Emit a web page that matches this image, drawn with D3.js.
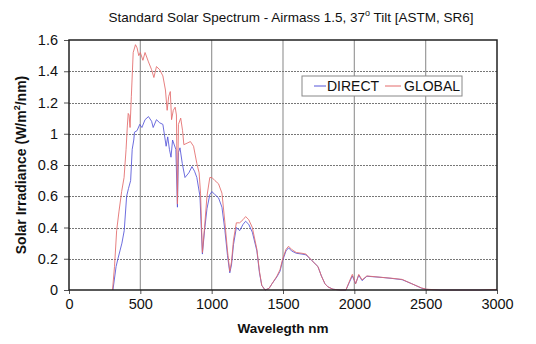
<!DOCTYPE html>
<html>
<head>
<meta charset="utf-8">
<script src="https://cdn.jsdelivr.net/npm/d3@7"></script>
<style>
  body { margin: 0; background: #fff; }
  svg { display: block; font-family: "Liberation Sans", Arial, sans-serif; }
</style>
</head>
<body>
<svg id="chart" width="536" height="344"></svg>
<script>
// wavelength (nm) and irradiance (W/m2/nm)
const globalWl = [305, 319, 334, 350, 369, 386, 400, 409, 415, 421, 428, 437, 450, 466, 477, 489, 500, 518, 533, 557,
  579, 595, 613, 636, 658, 676, 688, 699, 710, 719, 731, 744, 753, 760, 767, 783, 796, 805, 828, 851,
  873, 896, 912, 922, 935, 950, 967, 987, 1002, 1023, 1048, 1072, 1093, 1111, 1127, 1139, 1153, 1173, 1196, 1220,
  1238, 1260, 1285, 1317, 1335, 1351, 1374, 1402, 1423, 1458, 1479, 1498, 1521, 1539, 1560, 1593, 1633, 1661, 1701, 1745,
  1769, 1794, 1815, 1850, 1899, 1941, 1963, 1986, 2009, 2031, 2054, 2088, 2145, 2201, 2264, 2335, 2403, 2471, 2505, 2600,
  2881, 3000];
const globalVal = [0, 0.15, 0.38, 0.5, 0.63, 0.72, 0.9, 1.05, 1.13, 1.12, 1.04, 1.24, 1.52, 1.57, 1.55, 1.5, 1.52, 1.47, 1.52, 1.46,
  1.41, 1.36, 1.43, 1.41, 1.37, 1.28, 1.15, 1.24, 1.27, 1.09, 1.15, 1.17, 1.12, 0.55, 1.06, 1.1, 1.02, 0.93, 0.94, 0.95,
  0.92, 0.81, 0.75, 0.62, 0.24, 0.4, 0.6, 0.72, 0.72, 0.7, 0.68, 0.62, 0.43, 0.25, 0.12, 0.18, 0.32, 0.43, 0.43, 0.45,
  0.47, 0.45, 0.4, 0.26, 0.12, 0.03, 0, 0.01, 0.04, 0.09, 0.13, 0.2, 0.26, 0.28, 0.26, 0.24, 0.235, 0.23, 0.19, 0.15,
  0.09, 0.04, 0.02, 0.005, 0, 0, 0.05, 0.1, 0.04, 0.1, 0.065, 0.09, 0.085, 0.08, 0.075, 0.068, 0.04, 0.013, 0.005, 0,
  0, 0.004];

const directWl = [308, 330, 343, 357, 371, 387, 404, 417, 432, 443, 454, 459, 477, 496, 511, 533, 557, 579, 590, 613,
  636, 658, 681, 692, 704, 715, 726, 749, 760, 767, 778, 794, 813, 840, 862, 880, 896, 918, 935, 950,
  967, 987, 1002, 1023, 1048, 1072, 1093, 1111, 1127, 1139, 1153, 1173, 1196, 1220, 1238, 1260, 1285, 1317, 1335, 1351,
  1374, 1402, 1423, 1458, 1479, 1498, 1521, 1539, 1560, 1593, 1633, 1661, 1701, 1745, 1769, 1794, 1815, 1850, 1899, 1941,
  1963, 1986, 2009, 2031, 2054, 2088, 2145, 2201, 2264, 2335, 2403, 2471, 2505, 2600, 2881, 3000];
const directVal = [0, 0.15, 0.2, 0.25, 0.3, 0.38, 0.6, 0.65, 0.7, 0.9, 0.96, 1.01, 1.02, 1.06, 1.04, 1.09, 1.11, 1.08, 1.04, 1.09,
  1.07, 1.06, 0.92, 0.98, 0.9, 0.85, 0.96, 0.9, 0.53, 0.88, 0.91, 0.81, 0.72, 0.75, 0.79, 0.76, 0.72, 0.6, 0.23, 0.38,
  0.52, 0.61, 0.63, 0.61, 0.59, 0.53, 0.38, 0.22, 0.11, 0.16, 0.29, 0.4, 0.38, 0.42, 0.44, 0.42, 0.37, 0.25, 0.11, 0.03,
  0, 0.01, 0.04, 0.085, 0.12, 0.19, 0.25, 0.27, 0.25, 0.235, 0.23, 0.225, 0.19, 0.15, 0.09, 0.04, 0.02, 0.005, 0, 0,
  0.045, 0.09, 0.04, 0.095, 0.06, 0.088, 0.084, 0.08, 0.074, 0.066, 0.04, 0.012, 0.004, 0, 0, 0.002];

const xTicks = [0, 500, 1000, 1500, 2000, 2500, 3000];
const yTicks = [0, 0.2, 0.4, 0.6, 0.8, 1, 1.2, 1.4, 1.6];

const margin = { top: 40, right: 39, bottom: 54, left: 69 };
const width = 536 - margin.left - margin.right;
const height = 344 - margin.top - margin.bottom;

const svg = d3.select('#chart');
const g = svg.append('g').attr('transform', 'translate(' + margin.left + ',' + margin.top + ')');

const x = d3.scaleLinear().domain([0, 3000]).range([0, width]);
const y = d3.scaleLinear().domain([0, 1.6]).range([height, 0]);

// grid
g.selectAll('.vgrid')
  .data(xTicks.slice(1, -1))
  .enter().append('line')
  .attr('x1', d => x(d)).attr('x2', d => x(d))
  .attr('y1', 0).attr('y2', height)
  .attr('stroke', '#9a9a9a').attr('stroke-width', 1.2);

g.selectAll('.hgrid')
  .data(yTicks.slice(1, -1))
  .enter().append('line')
  .attr('x1', 0).attr('x2', width)
  .attr('y1', d => Math.round(y(d)) + 0.5).attr('y2', d => Math.round(y(d)) + 0.5)
  .attr('stroke', '#777').attr('stroke-width', 1)
  .attr('stroke-dasharray', '2,1');

// axes
const xAxis = d3.axisBottom(x).tickValues(xTicks).tickSize(4).tickPadding(5).tickFormat(d3.format('d'));
const yAxis = d3.axisLeft(y).tickValues(yTicks).tickSize(5).tickPadding(6).tickFormat(d => d === 0 || d === 1 ? d : d3.format('.1f')(d));

g.append('g')
  .attr('transform', 'translate(0,' + height + ')')
  .call(xAxis)
  .call(a => a.select('.domain').remove())
  .call(a => a.selectAll('text').attr('font-size', 14.5).attr('fill', '#111').attr('font-family', null))
  .call(a => a.selectAll('line').attr('stroke', '#555'));

g.append('g')
  .call(yAxis)
  .call(a => a.select('.domain').remove())
  .call(a => a.selectAll('text').attr('font-size', 14.5).attr('fill', '#111').attr('font-family', null))
  .call(a => a.selectAll('line').attr('stroke', '#555'));

// series
const line = d3.line().x(d => x(d[0])).y(d => y(d[1]));

g.append('path')
  .datum(d3.zip(directWl, directVal))
  .attr('fill', 'none')
  .attr('stroke', '#5454d8')
  .attr('stroke-width', 1)
  .attr('opacity', 0.85)
  .attr('d', line);

g.append('path')
  .datum(d3.zip(globalWl, globalVal))
  .attr('fill', 'none')
  .attr('stroke', '#e36a6a')
  .attr('stroke-width', 1)
  .attr('opacity', 0.85)
  .attr('d', line);

// frame
g.append('rect')
  .attr('x', 0).attr('y', 0)
  .attr('width', width).attr('height', height)
  .attr('fill', 'none')
  .attr('stroke', '#222').attr('stroke-width', 1.5);

// legend
const legend = g.append('g').attr('transform', 'translate(' + (302 - margin.left) + ',' + (76 - margin.top) + ')');
legend.append('rect')
  .attr('width', 160).attr('height', 20)
  .attr('fill', '#fff').attr('stroke', '#888').attr('stroke-width', 1);
legend.append('line')
  .attr('x1', 12).attr('x2', 24).attr('y1', 10).attr('y2', 10)
  .attr('stroke', '#5454d8').attr('stroke-width', 1);
legend.append('text')
  .attr('x', 25).attr('y', 15)
  .attr('font-size', 14).attr('fill', '#111')
  .text('DIRECT');
legend.append('line')
  .attr('x1', 83).attr('x2', 99).attr('y1', 10).attr('y2', 10)
  .attr('stroke', '#e36a6a').attr('stroke-width', 1);
legend.append('text')
  .attr('x', 102).attr('y', 15)
  .attr('font-size', 14).attr('fill', '#111')
  .text('GLOBAL');

// titles
const title = svg.append('text')
  .attr('x', 291).attr('y', 22)
  .attr('text-anchor', 'middle')
  .attr('font-size', 13.5).attr('fill', '#111');
title.append('tspan').text('Standard Solar Spectrum - Airmass 1.5, 37');
title.append('tspan').attr('font-size', 9).attr('dy', -6).text('o');
title.append('tspan').attr('dy', 6).text(' Tilt [ASTM, SR6]');

svg.append('text')
  .attr('x', margin.left + width / 2).attr('y', 333)
  .attr('text-anchor', 'middle')
  .attr('font-size', 13.5).attr('font-weight', 'bold').attr('fill', '#111')
  .text('Wavelegth nm');

const ytitle = svg.append('text')
  .attr('transform', 'translate(26,' + (margin.top + height / 2) + ') rotate(-90)')
  .attr('text-anchor', 'middle')
  .attr('font-size', 14).attr('font-weight', 'bold').attr('fill', '#111');
ytitle.append('tspan').text('Solar Irradiance (W/m');
ytitle.append('tspan').attr('font-size', 9).attr('dy', -6).text('2');
ytitle.append('tspan').attr('dy', 6).text('/nm)');
</script>
</body>
</html>
